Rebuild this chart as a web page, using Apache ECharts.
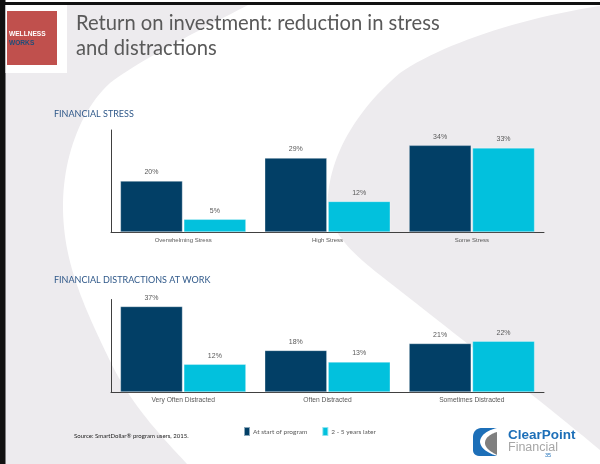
<!DOCTYPE html>
<html>
<head>
<meta charset="utf-8">
<script src="https://cdn.jsdelivr.net/npm/echarts@6/dist/echarts.min.js"></script>
<style>
  html, body { margin: 0; padding: 0; background: #ffffff; }
  #chart { width: 600px; height: 464px; }
</style>
</head>
<body>
<div id="chart"></div>
<script>
// Survey results: share of participants at program start vs. 2-5 years later
const seriesNames = ['At start of program', '2 - 5 years later'];

const stressCategories = ['Overwhelming Stress', 'High Stress', 'Some Stress'];
const stressStart = [20, 29, 34];
const stressLater = [5, 12, 33];

const distractionCategories = ['Very Often Distracted', 'Often Distracted', 'Sometimes Distracted'];
const distractionStart = [37, 18, 21];
const distractionLater = [12, 13, 22];

const DARK = '#023f66';
const CYAN = '#02c1dd';
const GREY_TEXT = '#595959';
const AXIS_LINE = '#404040';

const chart = echarts.init(document.getElementById('chart'), null, { renderer: 'canvas' });

// Turn a simple M/L/C outline into polygon points (cubic segments are sampled)
function outline(d) {
  const tokens = d.match(/[MLCZ]|-?[\d.]+/g);
  const pts = [];
  let i = 0, cmd = null, cur = [0, 0];
  while (i < tokens.length) {
    const t = tokens[i];
    if (/[MLCZ]/.test(t)) { cmd = t; i++; if (cmd === 'Z') continue; }
    if (cmd === 'M' || cmd === 'L') {
      cur = [+tokens[i], +tokens[i + 1]]; i += 2; pts.push(cur);
    } else if (cmd === 'C') {
      const c1 = [+tokens[i], +tokens[i + 1]], c2 = [+tokens[i + 2], +tokens[i + 3]], p = [+tokens[i + 4], +tokens[i + 5]];
      i += 6;
      for (let s = 1; s <= 24; s++) {
        const u = s / 24, v = 1 - u;
        pts.push([
          v * v * v * cur[0] + 3 * v * v * u * c1[0] + 3 * v * u * u * c2[0] + u * u * u * p[0],
          v * v * v * cur[1] + 3 * v * v * u * c1[1] + 3 * v * u * u * c2[1] + u * u * u * p[1]
        ]);
      }
      cur = p;
    } else { i++; }
  }
  return pts;
}

function barSeries(name, data, color, idx) {
  return {
    name: name,
    type: 'bar',
    xAxisIndex: idx,
    yAxisIndex: idx,
    data: data,
    barGap: '2%',
    barCategoryGap: '13%',
    itemStyle: { color: color, borderColor: 'rgba(255,255,255,0.55)', borderWidth: 0.6 },
    label: {
      show: true,
      position: 'top',
      distance: 5,
      formatter: '{c}%',
      color: GREY_TEXT,
      fontFamily: 'Liberation Sans',
      fontSize: 7
    },
    emphasis: { disabled: true },
    silent: true,
    animation: false
  };
}

function catAxis(categories, idx, fontSize) {
  return {
    type: 'category',
    gridIndex: idx,
    data: categories,
    axisLine: { show: true, lineStyle: { color: AXIS_LINE, width: 1 } },
    axisTick: { show: false },
    axisLabel: { color: GREY_TEXT, fontFamily: 'Liberation Sans', fontSize: fontSize, margin: 5 }
  };
}

function valAxis(idx) {
  return {
    type: 'value',
    gridIndex: idx,
    min: 0,
    max: 40,
    interval: 10,
    axisLine: { show: true, lineStyle: { color: AXIS_LINE, width: 1 } },
    axisTick: { show: false },
    axisLabel: { show: false },
    splitLine: { show: false }
  };
}

// Slide backdrop: grey panels with a white swoosh between them
const background = [
  { type: 'rect', shape: { x: 0, y: 0, width: 600, height: 464 }, style: { fill: '#ffffff' }, z: -10 },
  { type: 'polygon', shape: { points: outline('M5,4 L250,4 C200,30 140,60 110,83 C80,110 62,160 63,210 C64,260 80,300 113,367 C135,410 165,440 187,464 L5,464 Z') }, style: { fill: '#edebee' }, z: -9 },
  { type: 'polygon', shape: { points: outline('M600,4 L600,450 C540,400 450,330 380,275 C345,248 325,225 328,195 C332,150 360,107 400,73 C440,45 520,18 600,6 Z') }, style: { fill: '#edebee' }, z: -9 },
  // frame
  { type: 'rect', shape: { x: 0, y: 2, width: 600, height: 3 }, style: { fill: '#111111' }, z: -5 },
  { type: 'rect', shape: { x: 0, y: 0, width: 5.5, height: 464 }, style: { fill: '#111111' }, z: -5 },
  // header badge
  { type: 'rect', shape: { x: 5.5, y: 5, width: 61.5, height: 68 }, style: { fill: '#ffffff' }, z: -4 },
  { type: 'rect', shape: { x: 7, y: 11, width: 50, height: 54 }, style: { fill: '#c0504d' }, z: -3 },
  { type: 'text', left: 9, top: 31, style: { text: 'WELLNESS', fill: '#ffffff', font: 'bold 6.6px "Liberation Sans"' }, z: -2 },
  { type: 'text', left: 9, top: 39.5, style: { text: 'WORKS', fill: '#1f4e79', font: 'bold 6.6px "Liberation Sans"' }, z: -2 },
  // heading
  { type: 'text', left: 76, top: 13.5, style: { text: 'Return on investment: reduction in stress', fill: GREY_TEXT, font: '20.2px Lato' } },
  { type: 'text', left: 76, top: 38.5, style: { text: 'and distractions', fill: GREY_TEXT, font: '20.2px Lato' } },
  // section headings
  { type: 'text', left: 54, top: 110, style: { text: 'FINANCIAL STRESS', fill: '#2f5889', font: '9px Lato' } },
  { type: 'text', left: 54, top: 276, style: { text: 'FINANCIAL DISTRACTIONS AT WORK', fill: '#2f5889', font: '9px Lato' } },
  // source note
  { type: 'text', left: 74, top: 433.5, style: { text: 'Source: SmartDollar\u00ae program users, 2015.', fill: '#222222', font: '6px Lato' } },
  // company mark
  { type: 'polygon', shape: { points: outline('M497,428 L482,428 C476,428 473,432 473,437 L473,450 C473,454 476,456 480,456 L497,456 C488,453 481,449 480,442 C480,435 488,430 497,428 Z') }, style: { fill: '#1d6fb8' } },
  { type: 'polygon', shape: { points: outline('M497,432 L497,455 C491,452 485,448 485,443 C485,438 490,434 497,432 Z') }, style: { fill: '#7f7f7f' } },
  { type: 'text', left: 508, top: 428, style: { text: 'ClearPoint', fill: '#1d6fb8', font: 'bold 13.5px "Liberation Sans"' } },
  { type: 'text', left: 508, top: 441, style: { text: 'Financial', fill: '#a6a6a6', font: '12.5px "Liberation Sans"' } },
  { type: 'text', left: 545, top: 452, style: { text: '35', fill: '#1d6fb8', font: '5.5px "Liberation Sans"' } }
];

chart.setOption({
  animation: false,
  backgroundColor: 'transparent',
  graphic: background,
  legend: {
    data: seriesNames,
    left: 238,
    top: 421,
    icon: 'rect',
    itemWidth: 6,
    itemHeight: 9,
    itemGap: 14,
    selectedMode: false,
    textStyle: { color: GREY_TEXT, fontFamily: 'Lato', fontSize: 6.5, padding: [0, 0, 0, -2] }
  },
  grid: [
    { left: 111, right: 56, top: 130, height: 102, containLabel: false },
    { left: 111, right: 56, top: 299.5, height: 92.5, containLabel: false }
  ],
  xAxis: [catAxis(stressCategories, 0, 6), catAxis(distractionCategories, 1, 6.7)],
  yAxis: [valAxis(0), valAxis(1)],
  series: [
    barSeries(seriesNames[0], stressStart, DARK, 0),
    barSeries(seriesNames[1], stressLater, CYAN, 0),
    barSeries(seriesNames[0], distractionStart, DARK, 1),
    barSeries(seriesNames[1], distractionLater, CYAN, 1)
  ]
});
</script>
</body>
</html>
